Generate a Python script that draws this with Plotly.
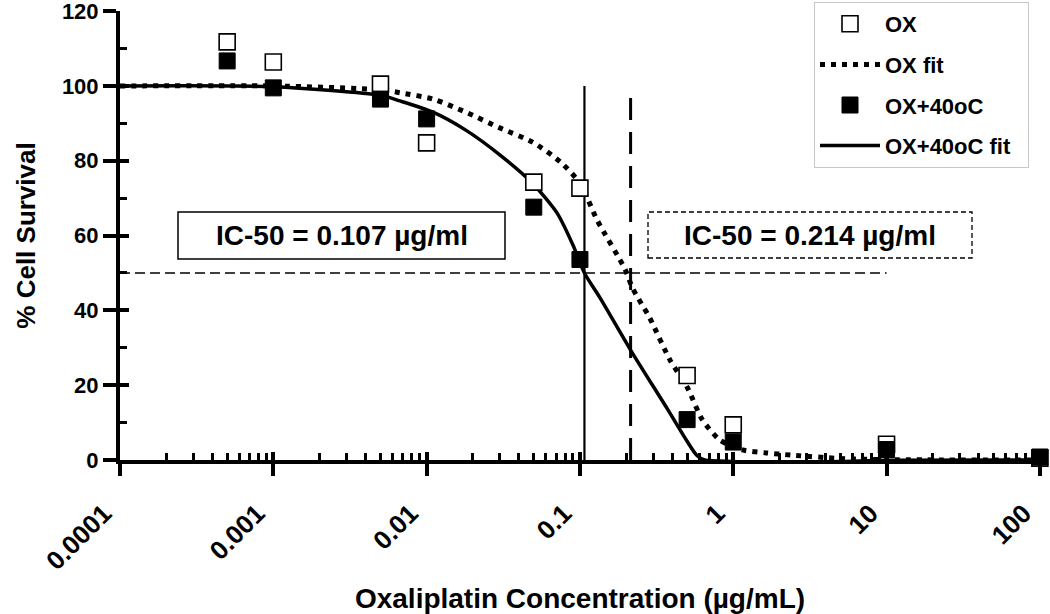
import plotly.graph_objects as go

# ---------------- data ----------------
conc = [0.0005, 0.001, 0.005, 0.01, 0.05, 0.1, 0.5, 1, 10, 100]
ox_surv = [111.8, 106.4, 100.5, 84.8, 74.3, 72.7, 22.6, 9.4, 4.2, 0.5]
ox40_surv = [106.7, 99.5, 96.5, 91.2, 67.6, 53.6, 10.8, 4.8, 2.8, 0.8]

ox_fit_x = [0.0001, 0.001, 0.005, 0.0067, 0.011, 0.018, 0.03, 0.049, 0.0745, 0.1,
            0.13, 0.197, 0.22, 0.285, 0.387, 0.5, 0.63, 0.82, 1.15, 1.64, 2.4, 5, 10, 100]
ox_fit_y = [100, 100, 99, 98.2, 96.5, 93, 88.8, 85, 79.7, 74,
            64, 51, 46, 38, 26.7, 19.5, 10.7, 5.3, 2.7, 1.9, 1.3, 0.4, 0.1, 0]

ox40_fit_x = [0.0001, 0.001, 0.005, 0.0067, 0.011, 0.018, 0.03, 0.049, 0.071, 0.09,
              0.107, 0.135, 0.214, 0.37, 0.5, 0.58, 0.65, 1, 2, 5, 10, 100]
ox40_fit_y = [100, 99.8, 97.5, 96, 93, 88.2, 81.6, 74, 66, 57.5,
              50, 43.4, 29.4, 13.8, 5, 1.2, 0, -0.4, -0.6, -0.4, -0.1, 0]

ic50_ox = 0.214
ic50_ox40 = 0.107
half_level = 50

x_tickvals = [0.0001, 0.001, 0.01, 0.1, 1, 10, 100]
x_ticktext = ["0.0001", "0.001", "0.01", "0.1", "1", "10", "100"]
y_tickvals = [0, 20, 40, 60, 80, 100, 120]

# ---------------- figure ----------------
FONT = "Liberation Sans, Arial, sans-serif"
fig = go.Figure()

# reference lines
fig.add_trace(go.Scatter(x=[x_tickvals[0], 10], y=[half_level, half_level], mode="lines",
                         line=dict(color="black", width=1.5, dash="10px,5px"),
                         showlegend=False, hoverinfo="skip"))
fig.add_trace(go.Scatter(x=[ic50_ox40, ic50_ox40], y=[0, 100], mode="lines",
                         line=dict(color="black", width=2.2),
                         showlegend=False, hoverinfo="skip"))
fig.add_trace(go.Scatter(x=[ic50_ox, ic50_ox], y=[0, 100], mode="lines",
                         line=dict(color="black", width=3, dash="22px,12px"),
                         showlegend=False, hoverinfo="skip"))

# fits
fig.add_trace(go.Scatter(x=ox_fit_x, y=ox_fit_y, mode="lines", name="OX fit",
                         line=dict(color="black", width=5, dash="5px,6px",
                                   shape="spline", smoothing=0.7),
                         legendrank=2, legendgroup="b"))
fig.add_trace(go.Scatter(x=ox40_fit_x, y=ox40_fit_y, mode="lines",
                         name="OX+40oC fit\u00a0\u00a0",
                         line=dict(color="black", width=3.5, shape="spline", smoothing=0.7),
                         legendrank=4, legendgroup="d"))

# data points
fig.add_trace(go.Scatter(x=conc, y=ox_surv, mode="markers", name="OX",
                         marker=dict(symbol="square", size=16, color="white",
                                     line=dict(color="black", width=1.6)),
                         cliponaxis=False, legendrank=1, legendgroup="a"))
fig.add_trace(go.Scatter(x=conc, y=ox40_surv, mode="markers", name="OX+40oC",
                         marker=dict(symbol="square", size=16, color="black",
                                     line=dict(color="black", width=1)),
                         cliponaxis=False, legendrank=3, legendgroup="c"))

# dummy trace for overlay axes (inner half of crossing major ticks)
fig.add_trace(go.Scatter(x=[1], y=[50], xaxis="x2", yaxis="y2", mode="markers",
                         marker=dict(opacity=0), showlegend=False, hoverinfo="skip"))

minor_x = []
for e in range(-4, 2):
    for m in range(2, 10):
        minor_x.append(m * 10 ** e)

XR = [-4, 2.0008]
YR = [0, 120.05]

fig.update_layout(
    width=1050, height=614,
    margin=dict(l=120, r=10, t=11, b=154, autoexpand=False),
    paper_bgcolor="white", plot_bgcolor="white",
    font=dict(family=FONT, color="black", size=22, weight="bold"),
    xaxis=dict(type="log", range=XR, showgrid=False, zeroline=False, automargin=False,
               showline=True, linecolor="black", linewidth=4,
               tickmode="array", tickvals=x_tickvals, ticktext=x_ticktext,
               ticks="outside", ticklen=12, tickwidth=4, tickcolor="black",
               tickangle=-45, ticklabeloverflow="allow",
               ticklabelshift=-16, ticklabelstandoff=12,
               tickfont=dict(family=FONT, size=26, color="black", weight="bold"),
               minor=dict(tickmode="array", tickvals=minor_x, ticks="inside",
                          ticklen=7, tickwidth=3, tickcolor="black", showgrid=False),
               title=dict(text="Oxaliplatin Concentration (µg/mL)",
                          font=dict(family=FONT, size=28, color="black", weight="bold"),
                          standoff=18)),
    xaxis2=dict(type="log", range=XR, overlaying="x", anchor="y", automargin=False,
                showgrid=False, zeroline=False, showline=False,
                tickmode="array", tickvals=x_tickvals, showticklabels=False,
                ticks="inside", ticklen=8, tickwidth=4, tickcolor="black"),
    yaxis=dict(range=YR, showgrid=False, zeroline=False, automargin=False,
               showline=True, linecolor="black", linewidth=4,
               tickmode="array", tickvals=y_tickvals, ticklabeloverflow="allow",
               ticks="outside", ticklen=13, tickwidth=4, tickcolor="black",
               tickfont=dict(family=FONT, size=22, color="black", weight="bold"),
               minor=dict(tickmode="array", tickvals=[10, 30, 50, 70, 90, 110],
                          ticks="inside", ticklen=7, tickwidth=3, tickcolor="black",
                          showgrid=False),
               title=dict(text="% Cell Survival",
                          font=dict(family=FONT, size=26, color="black", weight="bold"),
                          standoff=20)),
    yaxis2=dict(range=YR, overlaying="y", anchor="x", side="left", automargin=False,
                showgrid=False, zeroline=False, showline=False,
                tickmode="array", tickvals=y_tickvals, showticklabels=False,
                ticks="inside", ticklen=9, tickwidth=4, tickcolor="black"),
    legend=dict(xref="container", yref="container",
                x=1029 / 1050, xanchor="right", y=1 - 2 / 614, yanchor="top",
                bgcolor="white", bordercolor="#c8c8c8", borderwidth=1,
                font=dict(family=FONT, size=22, color="black", weight="bold"),
                tracegroupgap=9, traceorder="grouped", itemwidth=60),
    showlegend=True,
)

# IC-50 boxes
fig.add_shape(type="rect", xref="paper", yref="paper",
              x0=(178 - 120) / 920, x1=(505 - 120) / 920,
              y0=(460 - 259) / 449, y1=(460 - 212) / 449,
              line=dict(color="black", width=1.5), fillcolor="white", layer="below")
fig.add_shape(type="rect", xref="paper", yref="paper",
              x0=(648 - 120) / 920, x1=(972 - 120) / 920,
              y0=(460 - 258) / 449, y1=(460 - 212) / 449,
              line=dict(color="black", width=1.3, dash="5px,3px"), fillcolor="white",
              layer="below")
fig.add_annotation(xref="paper", yref="paper", x=(341.5 - 120) / 920, y=(460 - 235.5) / 449,
                   xanchor="center", yanchor="middle",
                   text=f"IC-50 = {ic50_ox40:.3f} µg/ml", showarrow=False,
                   font=dict(family=FONT, size=28, color="black", weight="bold"))
fig.add_annotation(xref="paper", yref="paper", x=(810 - 120) / 920, y=(460 - 235) / 449,
                   xanchor="center", yanchor="middle",
                   text=f"IC-50 = {ic50_ox:.3f} µg/ml", showarrow=False,
                   font=dict(family=FONT, size=28, color="black", weight="bold"))

fig.write_html("out.html", config={"displayModeBar": False},
               post_script="document.body.style.margin='0';document.body.style.overflow='hidden';")
